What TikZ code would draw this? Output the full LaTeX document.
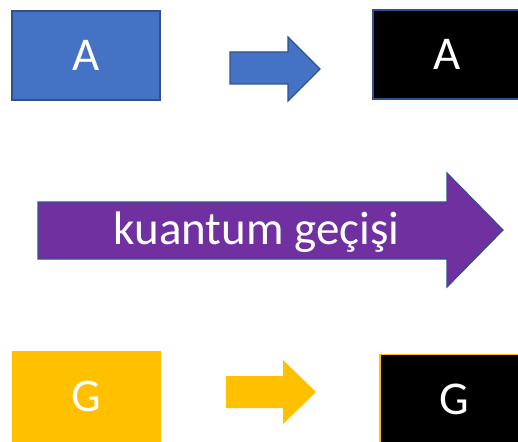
\documentclass[tikz,border=0pt]{standalone}
\usepackage{fontspec}
\setmainfont{Carlito}
\definecolor{accentblue}{HTML}{4472C4}
\definecolor{edgeblue}{HTML}{2F528F}
\definecolor{accentpurple}{HTML}{7030A0}
\definecolor{accentgold}{HTML}{FFC000}
\begin{document}
\begin{tikzpicture}[x=1pt,y=-1pt,
  box/.style={minimum width=148pt,minimum height=89pt,inner sep=0pt,
    text=white,font=\fontsize{47}{52}\selectfont,line width=1.2pt},
  blockarrow/.style={line width=1.2pt,line join=miter}]
\useasboundingbox (0,0) rectangle (518,441);
\clip (0,0) rectangle (518,441);

% top row: blue letter box, arrow, black box
\node[box,fill=accentblue,draw=edgeblue] (a1) at (86,55.5) {A};
\draw[blockarrow,fill=accentblue,draw=edgeblue]
  (230,52) -- (288,52) -- (288,37) -- (320,69) -- (288,101) -- (288,84) -- (230,84) -- cycle;
\node[box,fill=black,draw=edgeblue] (a2) at (447,54.5) {A};

% middle: large purple arrow with its caption
\draw[blockarrow,fill=accentpurple,draw=edgeblue]
  (38,202) -- (447,202) -- (447,173) -- (503,230) -- (447,287) -- (447,259) -- (38,259) -- cycle;
\node[text=white,font=\fontsize{47}{52}\selectfont,anchor=base,inner sep=0pt]
  (cap) at (256.5,244) {kuantum geçişi};

% bottom row: gold letter box, arrow, black box with gold rim
\node[box,fill=accentgold,draw=accentgold] (g1) at (86.5,396.5) {G};
\fill[accentgold]
  (226,376) -- (283,376) -- (283,360) -- (316,392) -- (283,424) -- (283,408) -- (226,408) -- cycle;
\node[box,fill=black,draw=accentgold,line width=1.6pt] (g2) at (454,399) {G};
\end{tikzpicture}
\end{document}
